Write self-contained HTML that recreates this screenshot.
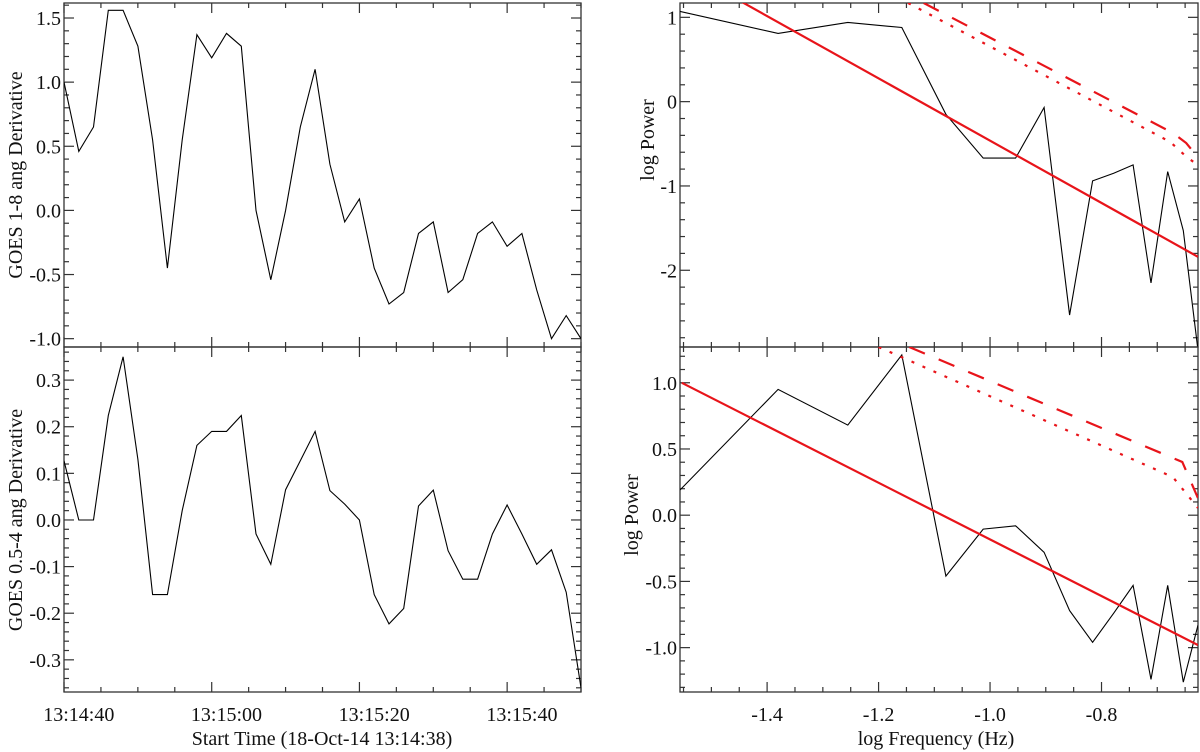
<!DOCTYPE html>
<html><head><meta charset="utf-8">
<style>
html,body{margin:0;padding:0;background:#fff;}
svg{display:block;font-family:"Liberation Serif",serif;}
</style></head>
<body>
<svg id="chart" width="1200" height="752" viewBox="0 0 1200 752" xmlns="http://www.w3.org/2000/svg"></svg>
<script>
// ---- data ----
const timeSec = [0,2,4,6,8,10,12,14,16,18,20,22,24,26,28,30,32,34,36,38,40,42,44,46,48,50,52,54,56,58,60,62,64,66,68,70];
const goes18 = [1.0,0.46,0.65,1.56,1.56,1.28,0.55,-0.45,0.55,1.37,1.19,1.38,1.28,0.0,-0.54,0.0,0.65,1.10,0.36,-0.09,0.09,-0.45,-0.73,-0.64,-0.18,-0.09,-0.64,-0.54,-0.18,-0.09,-0.28,-0.18,-0.62,-1.0,-0.82,-1.0];
const goes054 = [0.127,0.0,0.0,0.224,0.35,0.13,-0.16,-0.16,0.02,0.16,0.19,0.19,0.224,-0.03,-0.095,0.065,0.127,0.19,0.063,0.034,0.0,-0.16,-0.223,-0.19,0.03,0.064,-0.066,-0.127,-0.127,-0.03,0.032,-0.03,-0.095,-0.064,-0.155,-0.36];
const timeTickVals = [2,22,42,62];
const timeTickLabels = ["13:14:40","13:15:00","13:15:20","13:15:40"];
const freqK = [2,3,4,5,6,7,8,9,10,11,12,13,14,15,16,17];
const power18 = [1.07,0.81,0.94,0.88,-0.15,-0.67,-0.67,-0.07,-2.53,-0.94,-0.85,-0.75,-2.15,-0.83,-1.53,-2.95];
const power054 = [0.19,0.95,0.68,1.21,-0.46,-0.105,-0.08,-0.28,-0.72,-0.96,-0.74,-0.53,-1.24,-0.53,-1.26,-0.83];
const fitTopSolid = [[-1.553,1.58],[-0.627,-1.84]];
const fitTopDash = [[-1.119,1.17],[-0.672,-0.372],[-0.648,-0.49],[-0.627,-0.66]];
const fitTopDot = [[-1.147,1.17],[-0.677,-0.478],[-0.645,-0.668],[-0.627,-0.75]];
const fitBotSolid = [[-1.553,1.0],[-0.627,-0.98]];
const fitBotDash = [[-1.145,1.27],[-0.655,0.402],[-0.627,0.13]];
const fitBotDot = [[-1.20,1.27],[-0.672,0.288],[-0.627,0.055]];
const freqTickVals = [-1.4,-1.2,-1.0,-0.8];
const freqTickLabels = ["-1.4","-1.2","-1.0","-0.8"];

const svg = document.getElementById('chart');
const NS = 'http://www.w3.org/2000/svg';
function mk(tag, attrs, parent){const e=document.createElementNS(NS,tag);for(const k in attrs)e.setAttribute(k,attrs[k]);(parent||svg).appendChild(e);return e;}
function lin(d0,d1,r0,r1){return v=>r0+(v-d0)/(d1-d0)*(r1-r0);}
const dt = 2, N = 36;
const logf = k => Math.log10(k/(N*dt));

function panel(name, box, xd, yd, xmaj, xmin, ymaj, ymin, yLabels, yFmt, showXLabels, xLabels){
  const g = mk('g',{});
  
  
  const sx = lin(xd[0],xd[1],box.x0,box.x1), sy = lin(yd[0],yd[1],box.y0,box.y1);
  const clipId = name+'-clip';
  const cp = mk('clipPath',{id:clipId},g);
  mk('rect',{x:box.x0,y:box.y0,width:box.x1-box.x0,height:box.y1-box.y0},cp);
  const frame = mk('rect',{x:box.x0,y:box.y0,width:box.x1-box.x0,height:box.y1-box.y0,fill:'none',stroke:'#333','stroke-width':1.3},g);
  
  
  const ticks = mk('g',{stroke:'#333','stroke-width':1.2},g);
  
  
  const eps=1e-6;
  for(let v=Math.ceil((xd[0]-eps)/xmin)*xmin; v<=xd[1]+eps; v+=xmin){
    const isMaj = xmaj.some(m=>Math.abs(m-v)<xmin/2);
    const L = isMaj?10:5, x=sx(v);
    mk('line',{x1:x,x2:x,y1:box.y1,y2:box.y1-L},ticks);
    mk('line',{x1:x,x2:x,y1:box.y0,y2:box.y0+L},ticks);
  }
  for(let v=Math.ceil((Math.min(yd[0],yd[1])-eps)/ymin)*ymin; v<=Math.max(yd[0],yd[1])+eps; v+=ymin){
    const isMaj = Math.abs(v/ymaj-Math.round(v/ymaj))<0.01;
    const L = isMaj?10:5, y=sy(v);
    mk('line',{x1:box.x0,x2:box.x0+L,y1:y,y2:y},ticks);
    mk('line',{x1:box.x1,x2:box.x1-L,y1:y,y2:y},ticks);
  }
  yLabels.forEach(v=>{
    const t = mk('text',{x:box.x0-3,y:sy(v)+7,'text-anchor':'end','font-size':20,fill:'#111'},g);
    t.textContent = yFmt(v);
    
    
  });
  if(showXLabels){
    xmaj.forEach((v,i)=>{
      const t = mk('text',{x:sx(v),y:box.y1+29,'text-anchor':'middle','font-size':20,fill:'#111'},g);
      t.textContent = xLabels[i];
      
      
    });
  }
  return {g,sx,sy,clipId};
}
function pathD(xs,ys,sx,sy){return xs.map((x,i)=>(i?'L':'M')+sx(x).toFixed(1)+','+sy(ys[i]).toFixed(1)).join('');}

// left panels
const LB = {x0:64,x1:581};
const p1 = panel('goes-1-8-panel',{x0:LB.x0,x1:LB.x1,y0:3,y1:347},[0,70],[1.617,-1.065],timeTickVals,5,0.5,0.1,[1.5,1.0,0.5,0.0,-0.5,-1.0],v=>v.toFixed(1),false,[]);
const l1 = mk('path',{d:pathD(timeSec,goes18,p1.sx,p1.sy),fill:'none',stroke:'#000','stroke-width':1.1,'clip-path':'url(#'+p1.clipId+')'},p1.g);


const p2 = panel('goes-05-4-panel',{x0:LB.x0,x1:LB.x1,y0:347,y1:692},[0,70],[0.371,-0.369],timeTickVals,5,0.1,0.02,[0.3,0.2,0.1,0.0,-0.1,-0.2,-0.3],v=>v.toFixed(1),true,timeTickLabels);
const l2 = mk('path',{d:pathD(timeSec,goes054,p2.sx,p2.sy),fill:'none',stroke:'#000','stroke-width':1.1,'clip-path':'url(#'+p2.clipId+')'},p2.g);



// right panels
const RB = {x0:680,x1:1198};
const fx = [logf(2), logf(17)];
const fvals = freqK.map(logf);
const p3 = panel('power-1-8-panel',{x0:RB.x0,x1:RB.x1,y0:3,y1:347},fx,[1.17,-2.91],freqTickVals,0.05,1,0.2,[1,0,-1,-2],v=>v.toFixed(0),false,[]);
const p4 = panel('power-05-4-panel',{x0:RB.x0,x1:RB.x1,y0:347,y1:692},fx,[1.27,-1.335],freqTickVals,0.05,0.5,0.1,[1.0,0.5,0.0,-0.5,-1.0],v=>v.toFixed(1),true,freqTickLabels);
function fitLine(p, pts, dash, name){
  const e = mk('path',{d:pathD(pts.map(q=>q[0]),pts.map(q=>q[1]),p.sx,p.sy),fill:'none',stroke:'#e8141a','stroke-width':2.2,'stroke-dasharray':dash,'clip-path':'url(#'+p.clipId+')'},p.g);
  
  
}
const s3 = mk('path',{d:pathD(fvals,power18,p3.sx,p3.sy),fill:'none',stroke:'#000','stroke-width':1.1,'clip-path':'url(#'+p3.clipId+')'},p3.g);


fitLine(p3,fitTopSolid,'none','power-law-fit-1-8');
fitLine(p3,fitTopDash,'17,15','confidence-99-1-8');
fitLine(p3,fitTopDot,'3,9','confidence-95-1-8');
const s4 = mk('path',{d:pathD(fvals,power054,p4.sx,p4.sy),fill:'none',stroke:'#000','stroke-width':1.1,'clip-path':'url(#'+p4.clipId+')'},p4.g);


fitLine(p4,fitBotSolid,'none','power-law-fit-05-4');
fitLine(p4,fitBotDash,'17,15','confidence-99-05-4');
fitLine(p4,fitBotDot,'3,9','confidence-95-05-4');

// axis titles
function title(txt,x,y,rot,name){
  const t = mk('text',{x:x,y:y,'text-anchor':'middle','font-size':20,fill:'#111',transform:rot?`rotate(-90 ${x} ${y})`:''});
  t.textContent = txt;
  
  
}
title('GOES 1-8 ang Derivative',22,175,true,'y-axis-title-goes-1-8');
title('GOES 0.5-4 ang Derivative',22,520,true,'y-axis-title-goes-05-4');
title('Start Time (18-Oct-14 13:14:38)',322,745,false,'x-axis-title-time');
title('log Power',654,140,true,'y-axis-title-power-top');
title('log Power',638,515,true,'y-axis-title-power-bottom');
title('log Frequency (Hz)',936,745,false,'x-axis-title-frequency');
</script>
</body></html>
